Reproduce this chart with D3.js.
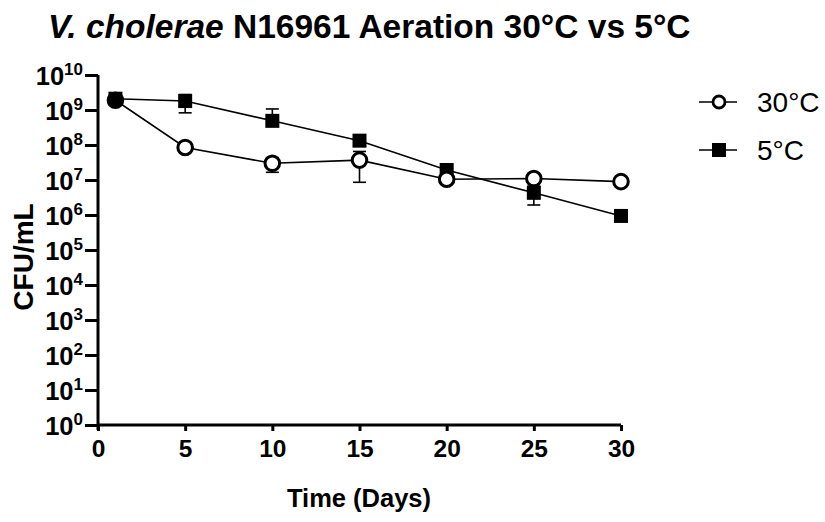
<!DOCTYPE html>
<html><head><meta charset="utf-8">
<script src="https://cdn.jsdelivr.net/npm/d3@7"></script>
<style>
body{margin:0;background:#fff;}
text{font-family:"Liberation Sans",Arial,sans-serif;fill:#000;}
</style></head>
<body><svg id="c" width="825" height="522"></svg>
<script>
const days = [1, 5, 10, 15, 20, 25, 30];
const warmMean = [1.9e9, 8.5e7, 3.0e7, 3.7e7, 1.05e7, 1.1e7, 9.0e6];
const warmSD   = [2e8, 1e7, 1.34e7, 2.84e7, 1.5e6, 1.5e6, 1e6];
const coldMean = [2.1e9, 1.8e9, 4.9e8, 1.33e8, 1.93e7, 4.3e6, 9.4e5];
const coldSD   = [2e8, 9.7e8, 5.8e8, 2e7, 2e6, 2.37e6, 1e5];
const xTicks = [0, 5, 10, 15, 20, 25, 30];
const yExps = [0,1,2,3,4,5,6,7,8,9,10];
const seriesNames = ["30°C", "5°C"];

const svg = d3.select("#c");
const x = d3.scaleLinear().domain([0, 30]).range([98, 621]);
const y = d3.scaleLog().domain([1, 1e10]).range([425, 75]);

// title
const title = svg.append("text").attr("x", 48).attr("y", 38)
  .style("font-size", "33.5px").style("font-weight", "bold");
title.append("tspan").style("font-style", "italic").text("V. cholerae");
title.append("tspan").text(" N16961 Aeration 30°C vs 5°C");

// axes
const xAxis = d3.axisBottom(x).tickValues(xTicks).tickSize(6).tickPadding(9).tickFormat(d3.format("d"));
const gx = svg.append("g").attr("transform", "translate(0,425)").call(xAxis);
gx.select(".domain").attr("stroke-width", 3).attr("d", "M98,0H621");
gx.selectAll(".tick line").attr("stroke-width", 3);
gx.selectAll(".tick text").style("font-size", "24.5px").style("font-weight", "bold").attr("dy", "0.71em");

const yAxis = d3.axisLeft(y).tickValues(yExps.map(e => Math.pow(10, e))).tickSize(13).tickFormat("");
const gy = svg.append("g").attr("transform", "translate(98,0)").call(yAxis);
gy.select(".domain").attr("stroke-width", 3).attr("d", "M0,75V430");
gy.selectAll(".tick line").attr("stroke-width", 3);
gy.selectAll(".tick").each(function(d) {
  const e = Math.round(Math.log10(d));
  const t = d3.select(this).append("text").attr("x", -15).attr("y", 9)
    .attr("text-anchor", "end").style("font-weight", "bold");
  t.append("tspan").style("font-size", "25.5px").text("10");
  t.append("tspan").style("font-size", "17px").attr("dy", -10).text(String(e));
});

// axis titles
svg.append("text").attr("x", 359).attr("y", 507).attr("text-anchor", "middle")
  .style("font-size", "25.5px").style("font-weight", "bold").text("Time (Days)");
svg.append("text").attr("transform", "translate(33,257) rotate(-90)").attr("text-anchor", "middle")
  .style("font-size", "28px").style("font-weight", "bold").text("CFU/mL");

const line = d3.line().x(d => x(d[0])).y(d => y(d[1]));
function drawSeries(means, sds) {
  const pts = days.map((d, i) => [d, means[i], sds[i]]);
  const g = svg.append("g");
  g.append("path").datum(pts).attr("d", line).attr("fill", "none").attr("stroke", "#000").attr("stroke-width", 1.6);
  pts.forEach(p => {
    const hi = p[1] + p[2], lo = p[1] - p[2];
    const cx = x(p[0]);
    g.append("line").attr("x1", cx).attr("x2", cx).attr("y1", y(p[1])).attr("y2", y(hi)).attr("stroke", "#000").attr("stroke-width", 1.6);
    g.append("line").attr("x1", cx - 6.5).attr("x2", cx + 6.5).attr("y1", y(hi)).attr("y2", y(hi)).attr("stroke", "#000").attr("stroke-width", 1.6);
    if (lo > 0) {
      g.append("line").attr("x1", cx).attr("x2", cx).attr("y1", y(p[1])).attr("y2", y(lo)).attr("stroke", "#000").attr("stroke-width", 1.6);
      g.append("line").attr("x1", cx - 6.5).attr("x2", cx + 6.5).attr("y1", y(lo)).attr("y2", y(lo)).attr("stroke", "#000").attr("stroke-width", 1.6);
    }
  });
  return {g, pts};
}
const cold = drawSeries(coldMean, coldSD);
const warm = drawSeries(warmMean, warmSD);
cold.g.selectAll("rect.m").data(cold.pts).join("rect").attr("class", "m")
  .attr("x", d => x(d[0]) - 7).attr("y", d => y(d[1]) - 7).attr("width", 14).attr("height", 14).attr("fill", "#000");
warm.g.selectAll("circle.m").data(warm.pts).join("circle").attr("class", "m")
  .attr("cx", d => x(d[0])).attr("cy", d => y(d[1])).attr("r", 7.3)
  .attr("fill", (d, i) => i === 0 ? "#000" : "#fff").attr("stroke", "#000").attr("stroke-width", 3);

// legend
const lg = svg.append("g");
const ly = [102, 150];
seriesNames.forEach((n, i) => {
  lg.append("line").attr("x1", 699).attr("x2", 737).attr("y1", ly[i]).attr("y2", ly[i]).attr("stroke", "#000").attr("stroke-width", 1.6);
  lg.append("text").attr("x", 757).attr("y", ly[i] + 9.5).style("font-size", "28px").text(n);
});
lg.append("circle").attr("cx", 719).attr("cy", ly[0]).attr("r", 6).attr("fill", "#fff").attr("stroke", "#000").attr("stroke-width", 2.8);
lg.append("rect").attr("x", 712).attr("y", ly[1] - 7).attr("width", 14).attr("height", 14).attr("fill", "#000");
</script></body></html>
